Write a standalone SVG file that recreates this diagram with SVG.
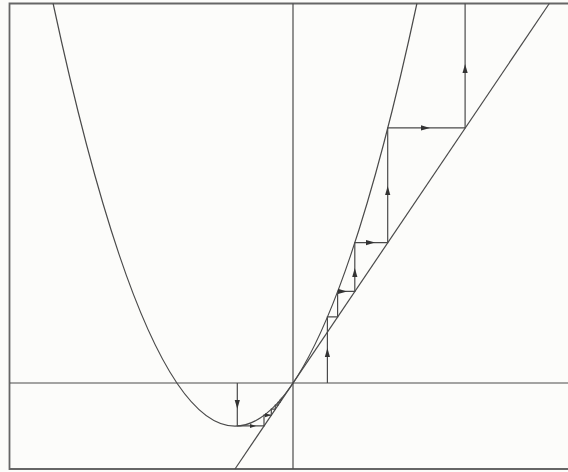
<svg xmlns="http://www.w3.org/2000/svg" width="568" height="472" viewBox="0 0 568 472">
  <style>
    .ln { fill: none; stroke: #4a4a4a; stroke-width: 1.2; }
    .frame { fill: none; stroke: #666; stroke-width: 1.8; }
    .ah { fill: #333; }
  </style>
  <defs>
    <path id="ah" d="M0,0 L-9,-2.6 L-9,2.6 Z"/>
    <path id="ahs" d="M0,0 L-6,-2 L-6,2 Z"/>
  </defs>
  <rect x="0" y="0" width="568" height="472" fill="#fcfcfa"/>
  <g id="frame">
    <path class="frame" d="M568,3.5 H9.5 V469 H568"/>
  </g>
  <g id="axes">
    <line class="ln" x1="10" y1="383" x2="568" y2="383"/>
    <line class="ln" x1="293" y1="3.5" x2="293" y2="469"/>
  </g>
  <g id="curves">
    <path id="parabola" class="ln" d="M53.1,3.5 Q235,848.8 416.9,3.5"/>
    <line id="diagonal" class="ln" x1="235" y1="469" x2="549.3" y2="3.5"/>
  </g>
  <g id="connectors">
    <path id="cobweb-right" class="ln" d="M327.4,383 V316.8 H337.6 V291.4 H354.8 V242.6 H387.7 V127.9 H465.1 V3.5"/>
    <path id="cobweb-left" class="ln" d="M237.3,383 V425.9 H264 V415.2 H271.3 V409.2 H275.3 V405.2 H278 V402.3 H280 V400.2 H281.4 V398.4 H282.6"/>
    <g class="ah">
      <use href="#ah" transform="translate(327.4,348) rotate(-90)"/>
      <use href="#ah" transform="translate(347,291.4)"/>
      <use href="#ah" transform="translate(354.8,268) rotate(-90)"/>
      <use href="#ah" transform="translate(375,242.6)"/>
      <use href="#ah" transform="translate(387.7,186) rotate(-90)"/>
      <use href="#ah" transform="translate(430,127.9)"/>
      <use href="#ah" transform="translate(465.1,64) rotate(-90)"/>
      <use href="#ah" transform="translate(237.3,409) rotate(90)"/>
      <use href="#ahs" transform="translate(256,425.9)"/>
      <use href="#ahs" transform="translate(271,415.2)"/>
    </g>
  </g>
</svg>
